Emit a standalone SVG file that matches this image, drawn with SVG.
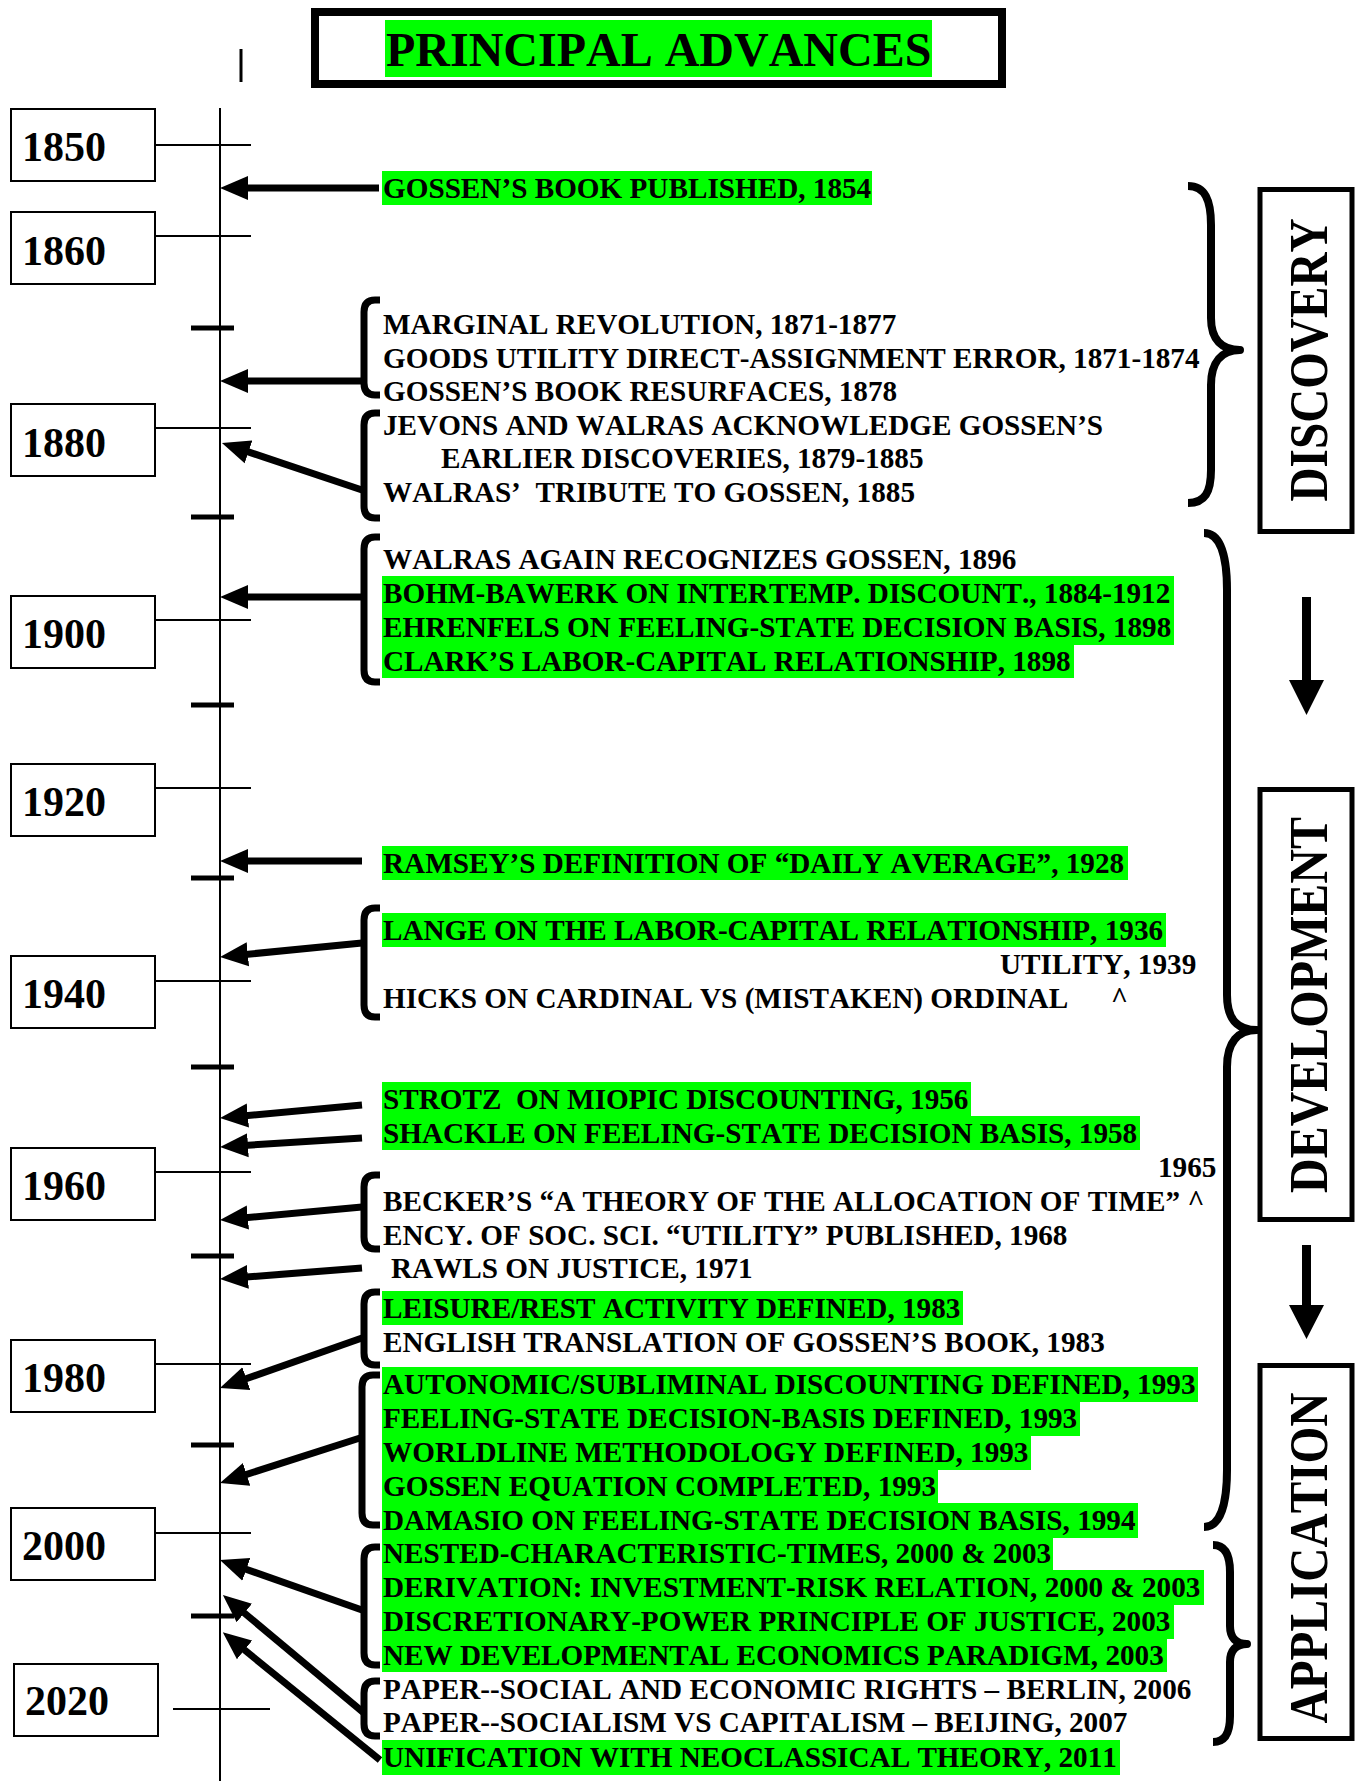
<svg xmlns="http://www.w3.org/2000/svg" width="1356" height="1781" viewBox="0 0 1356 1781">
<style>
.t{font-family:"Liberation Serif","Times New Roman",serif;font-weight:bold;font-size:29.2px;fill:#000;font-kerning:none}
.yr{font-size:42px}
.big{font-size:48px}
.side{font-size:54px}
.g{fill:#00ff00}
.ybox{fill:#fff;stroke:#000;stroke-width:2}
.tick{stroke:#000;stroke-width:2}
.mtick{stroke:#000;stroke-width:5}
.arr{stroke:#000;stroke-width:7;fill:none;marker-end:url(#ah)}
.brk{stroke:#000;stroke-width:7;fill:none}
.brace{stroke:#000;stroke-width:8;fill:none;stroke-linejoin:round}
.sbox{fill:#fff;stroke:#000;stroke-width:5}
</style>
<defs>
<marker id="ah" markerUnits="userSpaceOnUse" viewBox="0 -13 28 26" markerWidth="28" markerHeight="26" refX="8" refY="0" orient="auto">
<path d="M0,-12 L28,0 L0,12 z" fill="#000"/>
</marker>
</defs>
<rect width="1356" height="1781" fill="#fff"/>

<g id="title">
<rect x="315" y="12" width="687" height="72" fill="#fff" stroke="#000" stroke-width="8"/>
<rect class="g" x="385" y="20" width="547" height="57"/>
<text class="t big" x="386" y="66">PRINCIPAL ADVANCES</text>
</g>
<line x1="241" y1="49" x2="241" y2="82" stroke="#000" stroke-width="3"/>

<g id="timeline">
<line x1="220" y1="108" x2="220" y2="1781" stroke="#000" stroke-width="2"/>
<line class="mtick" x1="191" y1="328" x2="234" y2="328"/>
<line class="mtick" x1="191" y1="517" x2="234" y2="517"/>
<line class="mtick" x1="191" y1="705" x2="234" y2="705"/>
<line class="mtick" x1="191" y1="878" x2="234" y2="878"/>
<line class="mtick" x1="191" y1="1067" x2="234" y2="1067"/>
<line class="mtick" x1="191" y1="1256" x2="234" y2="1256"/>
<line class="mtick" x1="191" y1="1445" x2="234" y2="1445"/>
<line class="mtick" x1="191" y1="1616" x2="234" y2="1616"/>
</g>

<g id="year-1850"><rect class="ybox" x="11" y="109" width="144" height="72"/><line class="tick" x1="155" y1="145" x2="251" y2="145"/><text class="t yr" x="22" y="161">1850</text></g>
<g id="year-1860"><rect class="ybox" x="11" y="212" width="144" height="72"/><line class="tick" x1="155" y1="236" x2="251" y2="236"/><text class="t yr" x="22" y="265">1860</text></g>
<g id="year-1880"><rect class="ybox" x="11" y="404" width="144" height="72"/><line class="tick" x1="155" y1="428" x2="251" y2="428"/><text class="t yr" x="22" y="457">1880</text></g>
<g id="year-1900"><rect class="ybox" x="11" y="596" width="144" height="72"/><line class="tick" x1="155" y1="620" x2="251" y2="620"/><text class="t yr" x="22" y="648">1900</text></g>
<g id="year-1920"><rect class="ybox" x="11" y="764" width="144" height="72"/><line class="tick" x1="155" y1="788" x2="251" y2="788"/><text class="t yr" x="22" y="816">1920</text></g>
<g id="year-1940"><rect class="ybox" x="11" y="956" width="144" height="72"/><line class="tick" x1="155" y1="981" x2="251" y2="981"/><text class="t yr" x="22" y="1008">1940</text></g>
<g id="year-1960"><rect class="ybox" x="11" y="1148" width="144" height="72"/><line class="tick" x1="155" y1="1172" x2="251" y2="1172"/><text class="t yr" x="22" y="1200">1960</text></g>
<g id="year-1980"><rect class="ybox" x="11" y="1340" width="144" height="72"/><line class="tick" x1="155" y1="1364" x2="251" y2="1364"/><text class="t yr" x="22" y="1392">1980</text></g>
<g id="year-2000"><rect class="ybox" x="11" y="1508" width="144" height="72"/><line class="tick" x1="155" y1="1533" x2="251" y2="1533"/><text class="t yr" x="22" y="1560">2000</text></g>
<g id="year-2020"><rect class="ybox" x="14" y="1664" width="144" height="72"/><line class="tick" x1="173" y1="1709" x2="270" y2="1709"/><text class="t yr" x="25" y="1715">2020</text></g>

<g id="events">
<rect class="g" x="382" y="171" width="490" height="34"/>
<text class="t" x="383" y="198">GOSSEN’S BOOK PUBLISHED, 1854</text>

<text class="t" x="383" y="334">MARGINAL REVOLUTION, 1871-1877</text>
<text class="t" x="383" y="368">GOODS UTILITY DIRECT-ASSIGNMENT ERROR, 1871-1874</text>
<text class="t" x="383" y="401">GOSSEN’S BOOK RESURFACES, 1878</text>
<text class="t" x="383" y="435">JEVONS AND WALRAS ACKNOWLEDGE GOSSEN’S</text>
<text class="t" x="441" y="468">EARLIER DISCOVERIES, 1879-1885</text>
<text class="t" x="383" y="502" xml:space="preserve">WALRAS’  TRIBUTE TO GOSSEN, 1885</text>

<rect class="g" x="382" y="576" width="792" height="35"/>
<rect class="g" x="382" y="610" width="792" height="35"/>
<rect class="g" x="382" y="644" width="692" height="34"/>
<text class="t" x="383" y="569">WALRAS AGAIN RECOGNIZES GOSSEN, 1896</text>
<text class="t" x="383" y="603">BOHM-BAWERK ON INTERTEMP. DISCOUNT., 1884-1912</text>
<text class="t" x="383" y="637">EHRENFELS ON FEELING-STATE DECISION BASIS, 1898</text>
<text class="t" x="383" y="671">CLARK’S LABOR-CAPITAL RELATIONSHIP, 1898</text>

<rect class="g" x="382" y="846" width="746" height="34"/>
<text class="t" x="383" y="873">RAMSEY’S DEFINITION OF “DAILY AVERAGE”, 1928</text>

<rect class="g" x="382" y="913" width="784" height="34"/>
<text class="t" x="383" y="940">LANGE ON THE LABOR-CAPITAL RELATIONSHIP, 1936</text>
<text class="t" x="1000" y="974">UTILITY, 1939</text>
<text class="t" x="383" y="1008">HICKS ON CARDINAL VS (MISTAKEN) ORDINAL<tspan x="1111">^</tspan></text>

<rect class="g" x="382" y="1082" width="589" height="35"/>
<rect class="g" x="382" y="1116" width="758" height="34"/>
<text class="t" x="383" y="1109" xml:space="preserve">STROTZ  ON MIOPIC DISCOUNTING, 1956</text>
<text class="t" x="383" y="1143">SHACKLE ON FEELING-STATE DECISION BASIS, 1958</text>

<text class="t" x="1158" y="1177">1965</text>
<text class="t" x="383" y="1211">BECKER’S “A THEORY OF THE ALLOCATION OF TIME” ^</text>
<text class="t" x="383" y="1245">ENCY. OF SOC. SCI. “UTILITY” PUBLISHED, 1968</text>
<text class="t" x="391" y="1278">RAWLS ON JUSTICE, 1971</text>

<rect class="g" x="382" y="1291" width="581" height="34"/>
<text class="t" x="383" y="1318">LEISURE/REST ACTIVITY DEFINED, 1983</text>
<text class="t" x="383" y="1352">ENGLISH TRANSLATION OF GOSSEN’S BOOK, 1983</text>

<rect class="g" x="382" y="1367" width="816" height="35"/>
<rect class="g" x="382" y="1401" width="698" height="35"/>
<rect class="g" x="382" y="1435" width="649" height="35"/>
<rect class="g" x="382" y="1469" width="556" height="35"/>
<rect class="g" x="382" y="1503" width="756" height="35"/>
<rect class="g" x="382" y="1536" width="671" height="35"/>
<rect class="g" x="382" y="1570" width="822" height="35"/>
<rect class="g" x="382" y="1604" width="792" height="35"/>
<rect class="g" x="382" y="1638" width="785" height="34"/>
<text class="t" x="383" y="1394">AUTONOMIC/SUBLIMINAL DISCOUNTING DEFINED, 1993</text>
<text class="t" x="383" y="1428">FEELING-STATE DECISION-BASIS DEFINED, 1993</text>
<text class="t" x="383" y="1462">WORLDLINE METHODOLOGY DEFINED, 1993</text>
<text class="t" x="383" y="1496">GOSSEN EQUATION COMPLETED, 1993</text>
<text class="t" x="383" y="1530">DAMASIO ON FEELING-STATE DECISION BASIS, 1994</text>
<text class="t" x="383" y="1563">NESTED-CHARACTERISTIC-TIMES, 2000 &amp; 2003</text>
<text class="t" x="383" y="1597">DERIVATION: INVESTMENT-RISK RELATION, 2000 &amp; 2003</text>
<text class="t" x="383" y="1631">DISCRETIONARY-POWER PRINCIPLE OF JUSTICE, 2003</text>
<text class="t" x="383" y="1665">NEW DEVELOPMENTAL ECONOMICS PARADIGM, 2003</text>

<text class="t" x="383" y="1699">PAPER--SOCIAL AND ECONOMIC RIGHTS – BERLIN, 2006</text>
<text class="t" x="383" y="1732">PAPER--SOCIALISM VS CAPITALISM – BEIJING, 2007</text>
<rect class="g" x="382" y="1740" width="738" height="35"/>
<text class="t" x="383" y="1767">UNIFICATION WITH NEOCLASSICAL THEORY, 2011</text>
</g>

<g id="brackets">
<path class="brk" d="M380,300 L375,300 Q364,300 364,312 L364,383 Q364,395 375,395 L380,395"/>
<path class="brk" d="M380,413 L375,413 Q364,413 364,425 L364,506 Q364,518 375,518 L380,518"/>
<path class="brk" d="M380,537 L375,537 Q364,537 364,549 L364,670 Q364,682 375,682 L380,682"/>
<path class="brk" d="M380,908 L375,908 Q364,908 364,920 L364,1005 Q364,1017 375,1017 L380,1017"/>
<path class="brk" d="M380,1175 L375,1175 Q364,1175 364,1187 L364,1237 Q364,1249 375,1249 L380,1249"/>
<path class="brk" d="M380,1292 L375,1292 Q364,1292 364,1304 L364,1353 Q364,1365 375,1365 L380,1365"/>
<path class="brk" d="M380,1375 L373,1375 Q362,1375 362,1387 L362,1513 Q362,1525 373,1525 L380,1525"/>
<path class="brk" d="M380,1547 L375,1547 Q364,1547 364,1559 L364,1653 Q364,1665 375,1665 L380,1665"/>
<path class="brk" d="M380,1681 L375,1681 Q364,1681 364,1693 L364,1724 Q364,1736 375,1736 L380,1736"/>
</g>

<g id="connectors">
<line class="arr" x1="379" y1="188" x2="240" y2="188"/>
<line class="arr" x1="362" y1="381" x2="240" y2="381"/>
<line class="arr" x1="362" y1="490" x2="240.9" y2="449.4"/>
<line class="arr" x1="362" y1="597" x2="240" y2="597"/>
<line class="arr" x1="362" y1="861" x2="240" y2="861"/>
<line class="arr" x1="362" y1="943" x2="239.9" y2="955"/>
<line class="arr" x1="362" y1="1105" x2="239.9" y2="1116.2"/>
<line class="arr" x1="362" y1="1138" x2="240" y2="1145.7"/>
<line class="arr" x1="362" y1="1207" x2="239.9" y2="1218.2"/>
<line class="arr" x1="362" y1="1268" x2="239.9" y2="1277.5"/>
<line class="arr" x1="362" y1="1338" x2="238.8" y2="1381.3"/>
<line class="arr" x1="360" y1="1438" x2="239" y2="1476.8"/>
<line class="arr" x1="362" y1="1610" x2="238.8" y2="1566.7"/>
<line class="arr" x1="364" y1="1713" x2="238.2" y2="1607.9"/>
<line class="arr" x1="380" y1="1760" x2="238.3" y2="1644.9"/>
<path d="M1302,597 L1311,597 L1311,680 L1324,680 L1306.5,715 L1289,680 L1302,680 Z" fill="#000"/>
<path d="M1302,1245 L1311,1245 L1311,1305 L1324,1305 L1306.5,1339 L1289,1305 L1302,1305 Z" fill="#000"/>
</g>

<g id="braces">
<path class="brace" d="M1188,186 C1205,186 1211,200 1211,225 L1211,318 C1211,340 1222,350 1240,350 C1222,350 1211,362 1211,385 L1211,470 C1211,492 1205,503 1188,503"/>
<path class="brace" d="M1204,533 C1220,533 1227,555 1227,590 L1227,995 C1227,1020 1238,1030 1257,1030 C1238,1030 1227,1042 1227,1067 L1227,1470 C1227,1505 1220,1527 1204,1527"/>
<path class="brace" d="M1213,1545 C1225,1545 1230,1555 1230,1572 L1230,1626 C1230,1638 1236,1644 1247,1644 C1236,1644 1230,1650 1230,1662 L1230,1716 C1230,1733 1225,1742 1213,1742"/>
</g>

<g id="discovery">
<rect class="sbox" x="1260" y="189.5" width="92" height="342"/>
<text class="t side" transform="translate(1327,360) rotate(-90)" text-anchor="middle" textLength="283" lengthAdjust="spacingAndGlyphs">DISCOVERY</text>
</g>
<g id="development">
<rect class="sbox" x="1260" y="789.5" width="92" height="430"/>
<text class="t side" transform="translate(1327,1005) rotate(-90)" text-anchor="middle" textLength="376" lengthAdjust="spacingAndGlyphs">DEVELOPMENT</text>
</g>
<g id="application">
<rect class="sbox" x="1260" y="1365.5" width="92" height="373"/>
<text class="t side" transform="translate(1327,1558) rotate(-90)" text-anchor="middle" textLength="331" lengthAdjust="spacingAndGlyphs">APPLICATION</text>
</g>
</svg>
